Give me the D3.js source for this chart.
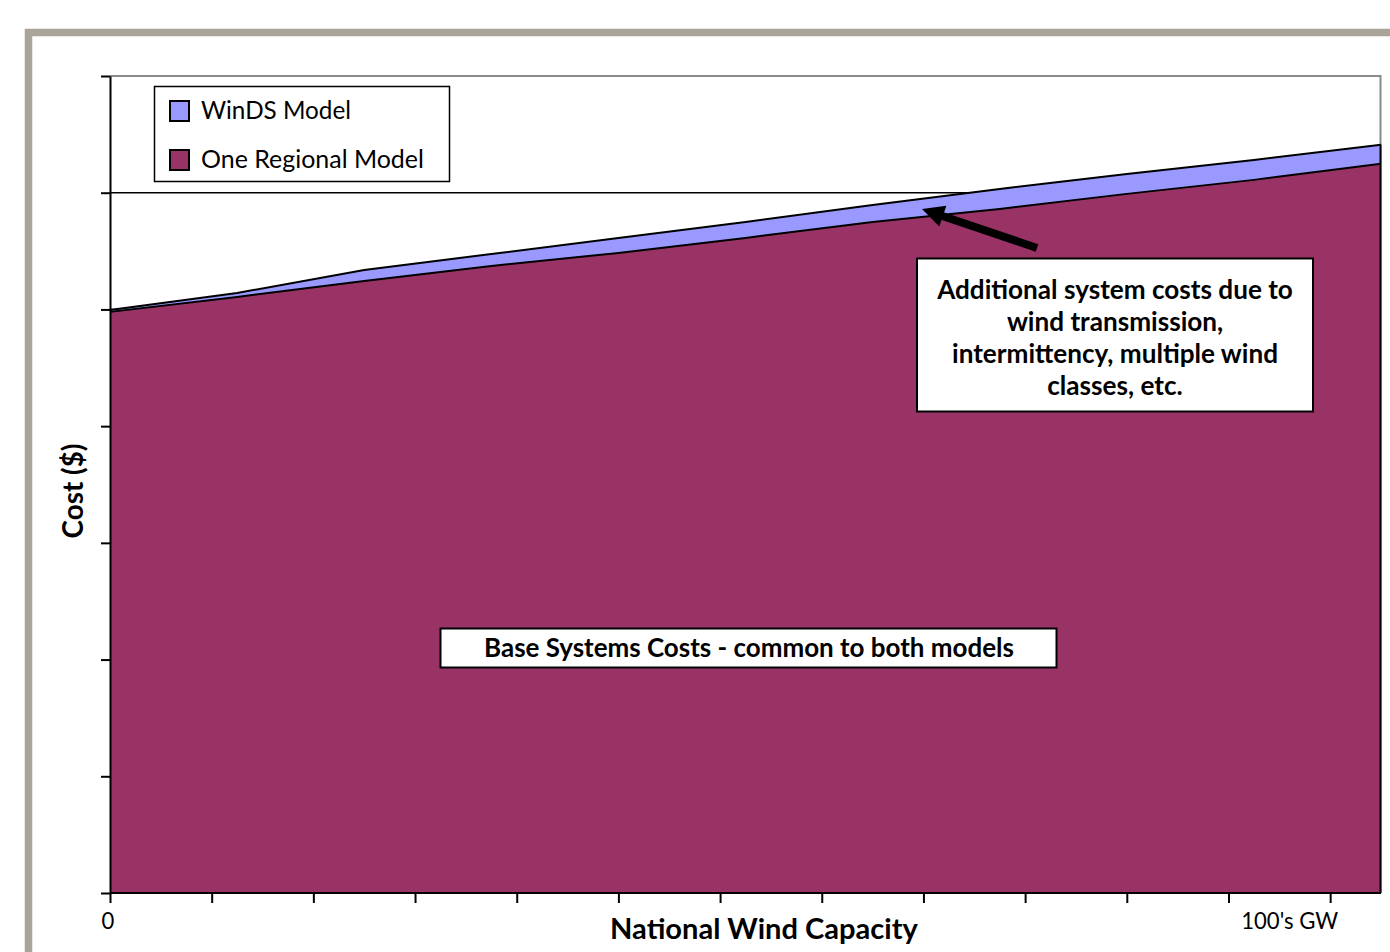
<!DOCTYPE html>
<html><head><meta charset="utf-8">
<script src="https://cdn.jsdelivr.net/npm/d3@7"></script>
<style>body{margin:0;background:#fff;overflow:hidden}</style>
</head><body>
<svg id="c" width="1390" height="952"></svg>
<script>
// ---- data ----
const capacity = [0, 1.25, 2.5, 3.75, 5, 6.25, 7.5, 8.75, 10, 11.25, 12.5];
const windsModel = [4.996, 5.141, 5.338, 5.475, 5.612, 5.750, 5.895, 6.032, 6.161, 6.281, 6.410];
const regionalModel = [4.979, 5.107, 5.244, 5.373, 5.484, 5.613, 5.750, 5.861, 5.990, 6.110, 6.248];
const seriesNames = ["WinDS Model", "One Regional Model"];
const seriesColors = ["#9999ff", "#993366"];
const xTicks = [0,1,2,3,4,5,6,7,8,9,10,11,12];
const xTickLabels = ["0","","","","","","","","","","","","100's GW"];
const yTicks = [0,1,2,3,4,5,6,7];
const xTitle = "National Wind Capacity";
const yTitle = "Cost ($)";
const noteTop = ["Additional system costs due to","wind transmission,","intermittency, multiple wind","classes, etc."];
const noteBase = "Base Systems Costs - common to both models";

const FONT = "Lato, 'Open Sans', sans-serif";
const svg = d3.select("#c");
const L = 110, R = 1381, T = 76, B = 893;
const x = d3.scaleLinear().domain([0, 12.5]).range([L, R]);
const y = d3.scaleLinear().domain([0, 7]).range([B, T]);

function fit(sel, w){
  const cur = sel.node().getComputedTextLength();
  const fs = parseFloat(sel.attr("font-size"));
  if (cur > 0) sel.attr("font-size", fs * w / cur);
  return sel;
}

// outer frame
svg.append("path").attr("d", "M28.5,960 L28.5,32.5 L1400,32.5")
  .attr("fill","none").attr("stroke","#aaa49a").attr("stroke-width",7.5);

// gridlines
svg.append("g").selectAll("line").data(yTicks.filter(d => d > 0 && d < 7)).join("line")
  .attr("x1", L).attr("x2", R).attr("y1", d => y(d)).attr("y2", d => y(d))
  .attr("stroke","#000").attr("stroke-width",1.5);
// plot border (gray)
svg.append("path").attr("d", `M${L},${y(7)} L${R-0.5},${y(7)} L${R-0.5},${B}`)
  .attr("fill","none").attr("stroke","#8a8a8a").attr("stroke-width",2);

// areas
const pts1 = capacity.map((c,i) => [c, windsModel[i]]);
const pts2 = capacity.map((c,i) => [c, regionalModel[i]]);
const area = d3.area().x(d => x(d[0])).y0(y(0)).y1(d => y(d[1]));
const line = d3.line().x(d => x(d[0])).y(d => y(d[1]));
svg.append("path").attr("d", area(pts1)).attr("fill", seriesColors[0]);
svg.append("path").attr("d", line(pts1)).attr("fill","none").attr("stroke","#000").attr("stroke-width",2);
svg.append("path").attr("d", area(pts2)).attr("fill", seriesColors[1]);
svg.append("path").attr("d", line(pts2)).attr("fill","none").attr("stroke","#000").attr("stroke-width",2);
// right edge line of area
svg.append("line").attr("x1", R-0.5).attr("x2", R-0.5).attr("y1", y(windsModel[windsModel.length-1])).attr("y2", B)
  .attr("stroke","#000").attr("stroke-width",2);

// axes
const yAxis = svg.append("g").attr("transform",`translate(${L},0)`)
  .call(d3.axisLeft(y).tickValues(yTicks).tickSize(9).tickFormat("").tickSizeOuter(0));
yAxis.selectAll("path,line").attr("stroke","#000").attr("stroke-width",2);
const xAxis = svg.append("g").attr("transform",`translate(0,${B})`)
  .call(d3.axisBottom(x).tickValues(xTicks).tickSize(10).tickFormat("").tickSizeOuter(0));
xAxis.selectAll("path,line").attr("stroke","#000").attr("stroke-width",2);
xAxis.select("path.domain").attr("d", `M${L},0H${R}`);

// tick labels
const lbl = svg.append("text").attr("x", x(12) + 8).attr("y", 929).attr("text-anchor","end")
  .attr("font-family", FONT).attr("font-size", 20).text(xTickLabels[12]);
fit(lbl, 97);
svg.append("text").attr("x", x(0) - 2).attr("y", 929).attr("text-anchor","middle")
  .attr("font-family", FONT).attr("font-size", lbl.attr("font-size")).text(xTickLabels[0]);

// axis titles
fit(svg.append("text").attr("x", 764).attr("y", 939).attr("text-anchor","middle")
  .attr("font-family", FONT).attr("font-weight","bold").attr("font-size", 26).text(xTitle), 308);
fit(svg.append("text").attr("transform","translate(83,491) rotate(-90)").attr("text-anchor","middle")
  .attr("font-family", FONT).attr("font-weight","bold").attr("font-size", 26).text(yTitle), 95);

// legend
const lg = svg.append("g");
lg.append("rect").attr("x",154.5).attr("y",86.5).attr("width",295).attr("height",95)
  .attr("fill","#fff").attr("stroke","#000").attr("stroke-width",1.5);
seriesNames.forEach((n,i) => {
  const yy = 101 + i*49;
  lg.append("rect").attr("x",170).attr("y",yy).attr("width",19).attr("height",20)
    .attr("fill", seriesColors[i]).attr("stroke","#000").attr("stroke-width",2);
  fit(lg.append("text").attr("x",201).attr("y",yy+18).attr("font-family",FONT)
    .attr("font-size",24).text(n), i === 0 ? 150 : 223);
});

// annotation box (top right)
svg.append("rect").attr("x",917).attr("y",258.5).attr("width",396).attr("height",153)
  .attr("fill","#fff").attr("stroke","#000").attr("stroke-width",2);
const t0 = svg.append("text").attr("x",1115).attr("y",299).attr("text-anchor","middle")
  .attr("font-family",FONT).attr("font-weight","bold").attr("font-size",23).text(noteTop[0]);
fit(t0, 356);
const fsTop = t0.attr("font-size");
noteTop.slice(1).forEach((s,i) => {
  svg.append("text").attr("x",1115).attr("y",299 + (i+1)*32).attr("text-anchor","middle")
    .attr("font-family",FONT).attr("font-weight","bold").attr("font-size",fsTop).text(s);
});

// annotation box (base)
svg.append("rect").attr("x",440.5).attr("y",628.5).attr("width",616).attr("height",39)
  .attr("fill","#fff").attr("stroke","#000").attr("stroke-width",2);
fit(svg.append("text").attr("x",749).attr("y",657).attr("text-anchor","middle")
  .attr("font-family",FONT).attr("font-weight","bold").attr("font-size",23).text(noteBase), 530);

// arrow
const tip = [922, 209], tail = [1037, 248];
const dx = tip[0]-tail[0], dy = tip[1]-tail[1], len = Math.hypot(dx,dy);
const ux = dx/len, uy = dy/len, hl = 22, hw = 11;
const base = [tip[0]-ux*hl, tip[1]-uy*hl];
svg.append("line").attr("x1",tail[0]).attr("y1",tail[1]).attr("x2",base[0]+ux*2).attr("y2",base[1]+uy*2)
  .attr("stroke","#000").attr("stroke-width",8);
svg.append("path").attr("d", `M${tip[0]},${tip[1]} L${base[0]-uy*hw},${base[1]+ux*hw} L${base[0]+uy*hw},${base[1]-ux*hw} Z`)
  .attr("fill","#000");
</script>
</body></html>
